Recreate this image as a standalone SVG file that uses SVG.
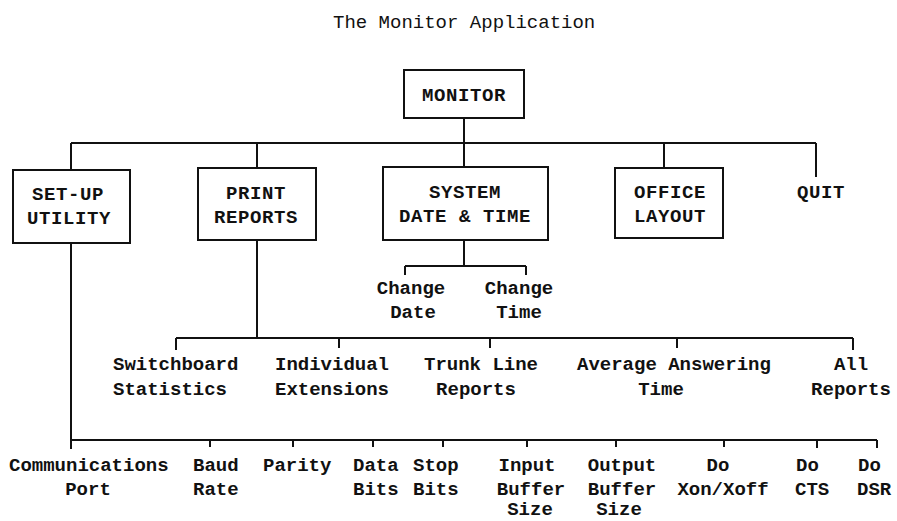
<svg xmlns="http://www.w3.org/2000/svg" width="897" height="521" viewBox="0 0 897 521">
  <style>
    text { font-family: "Liberation Mono", "DejaVu Sans Mono", monospace; font-size: 19px; font-weight: bold; fill: #111; }
    .title { font-weight: normal; }
    .box text { letter-spacing: 0.6px; }
    .m { text-anchor: middle; }
    rect { fill: #fff; stroke: #111; stroke-width: 2; }
    #connectors path { fill: none; stroke: #111; stroke-width: 2; }
  </style>
  <rect x="0" y="0" width="897" height="521" style="stroke:none"/>

  <text class="title" x="333" y="28">The Monitor Application</text>

  <!-- connector lines -->
  <g id="connectors">
    <path d="M464 118 V143 M71 143 H816 M71 143 V170 M257 143 V168 M464 143 V167 M664 143 V168 M816 143 V177"/>
    <path d="M464 240 V266 M405 266 H526 M405 266 V275 M526 266 V275"/>
    <path d="M257 240 V338 M176 338 H853 M176 338 V350 M339 338 V348 M490 338 V348 M677 338 V348 M853 338 V350"/>
    <path d="M71 243 V440 H877 M71 440 V449 M210 440 V447 M293 440 V447 M373 440 V447 M443 440 V447 M527 440 V447 M616 440 V447 M724 440 V447 M817 440 V448 M877 440 V448"/>
  </g>

  <!-- top level -->
  <g id="monitor" class="box">
    <rect x="404" y="70" width="120" height="48"/>
    <text class="m" x="464" y="101">MONITOR</text>
  </g>

  <!-- main menu -->
  <g id="setup" class="box">
    <rect x="13" y="170" width="117" height="73"/>
    <text class="m" x="68" y="200">SET-UP</text>
    <text class="m" x="69" y="224">UTILITY</text>
  </g>
  <g id="print" class="box">
    <rect x="198" y="168" width="118" height="72"/>
    <text class="m" x="256" y="199">PRINT</text>
    <text class="m" x="256" y="223">REPORTS</text>
  </g>
  <g id="datetime" class="box">
    <rect x="383" y="167" width="165" height="73"/>
    <text class="m" x="465" y="198">SYSTEM</text>
    <text class="m" x="465" y="222">DATE &amp; TIME</text>
  </g>
  <g id="office" class="box">
    <rect x="615" y="168" width="108" height="70"/>
    <text class="m" x="670" y="198">OFFICE</text>
    <text class="m" x="670" y="222">LAYOUT</text>
  </g>
  <g id="quit" class="box">
    <text class="m" x="821" y="198">QUIT</text>
  </g>

  <!-- date & time options -->
  <g id="change-date">
    <text class="m" x="411" y="294">Change</text>
    <text class="m" x="413" y="318">Date</text>
  </g>
  <g id="change-time">
    <text class="m" x="519" y="294">Change</text>
    <text class="m" x="519" y="318">Time</text>
  </g>

  <!-- report options -->
  <g id="switchboard">
    <text x="113" y="370">Switchboard</text>
    <text x="113" y="395">Statistics</text>
  </g>
  <g id="individual">
    <text x="275" y="370">Individual</text>
    <text x="275" y="395">Extensions</text>
  </g>
  <g id="trunk">
    <text class="m" x="481" y="370">Trunk Line</text>
    <text class="m" x="476" y="395">Reports</text>
  </g>
  <g id="average">
    <text x="577" y="370">Average Answering</text>
    <text class="m" x="661" y="395">Time</text>
  </g>
  <g id="all-reports">
    <text class="m" x="851" y="370">All</text>
    <text class="m" x="851" y="395">Reports</text>
  </g>

  <!-- set-up options -->
  <g id="comm-port">
    <text x="9" y="471">Communications</text>
    <text class="m" x="88" y="495">Port</text>
  </g>
  <g id="baud">
    <text x="193" y="471">Baud</text>
    <text x="193" y="495">Rate</text>
  </g>
  <g id="parity">
    <text x="263" y="471">Parity</text>
  </g>
  <g id="data-bits">
    <text x="353" y="471">Data</text>
    <text x="353" y="495">Bits</text>
  </g>
  <g id="stop-bits">
    <text x="413" y="471">Stop</text>
    <text x="413" y="495">Bits</text>
  </g>
  <g id="input-buffer">
    <text class="m" x="527" y="471">Input</text>
    <text class="m" x="531" y="495">Buffer</text>
    <text class="m" x="530" y="515">Size</text>
  </g>
  <g id="output-buffer">
    <text class="m" x="622" y="471">Output</text>
    <text class="m" x="622" y="495">Buffer</text>
    <text class="m" x="619" y="515">Size</text>
  </g>
  <g id="xon-xoff">
    <text class="m" x="718" y="471">Do</text>
    <text class="m" x="723" y="495">Xon/Xoff</text>
  </g>
  <g id="cts">
    <text x="796" y="471">Do</text>
    <text x="795" y="495">CTS</text>
  </g>
  <g id="dsr">
    <text x="858" y="471">Do</text>
    <text x="857" y="495">DSR</text>
  </g>
</svg>
